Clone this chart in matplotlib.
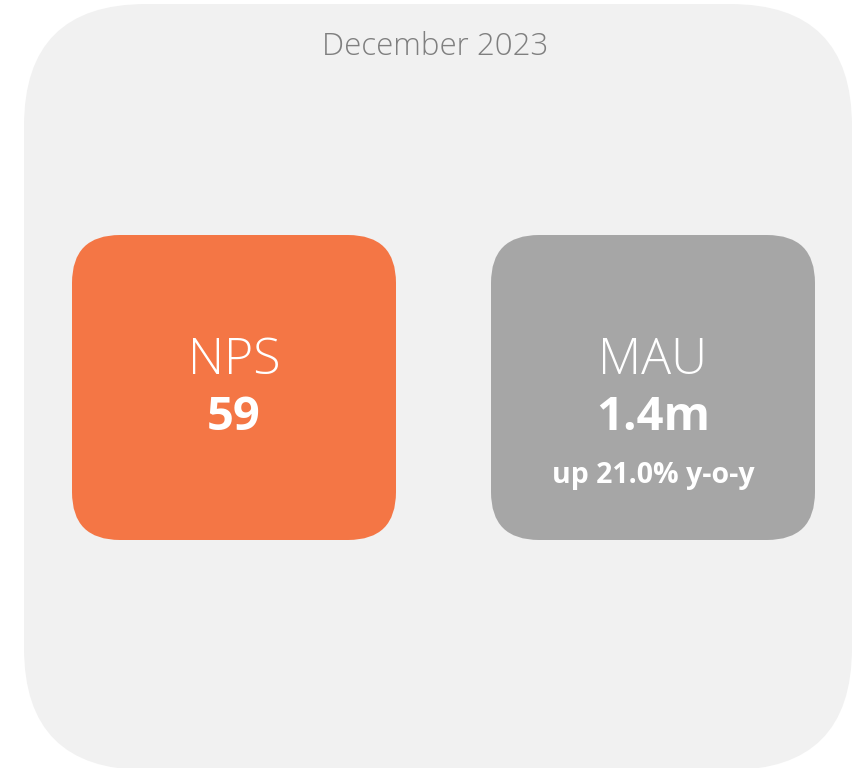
import matplotlib.pyplot as plt
from matplotlib.patches import FancyBboxPatch

# card data
title = 'December 2023'
labels = ['NPS', 'MAU']
values = ['59', '1.4m']
notes = ['', 'up 21.0% y-o-y']
colors = ['#F47645', '#A6A6A6']

plt.rcParams['font.family'] = ['Open Sans', 'DejaVu Sans']

fig = plt.figure(figsize=(8.59, 7.68), dpi=100)
ax = fig.add_axes([0, 0, 1, 1])
ax.set_xlim(0, 859)
ax.set_ylim(768, 0)
ax.axis('off')

# background panel
ax.add_patch(FancyBboxPatch((24, 4), 828, 766, boxstyle='round,pad=0,rounding_size=122',
                            facecolor='#F1F1F1', edgecolor='none'))
ax.text(435, 47, title, ha='center', va='center', fontsize=22.5, color='#7F7F7F',
        fontweight='light')

# metric cards
lefts = [72, 491]
for left, lab, val, note, col in zip(lefts, labels, values, notes, colors):
    ax.add_patch(FancyBboxPatch((left, 235), 324, 305, boxstyle='round,pad=0,rounding_size=48',
                                facecolor=col, edgecolor='none'))
    cx = left + 162
    ax.text(cx, 361, lab, ha='center', va='center', fontsize=36, color='white',
            fontweight='light')
    ax.text(cx, 418, val, ha='center', va='center', fontsize=34, color='white',
            fontweight='bold')
    if note:
        ax.text(cx, 476, note, ha='center', va='center', fontsize=20.5, color='white',
                fontweight='bold')

fig.savefig('out.png', dpi=100)
